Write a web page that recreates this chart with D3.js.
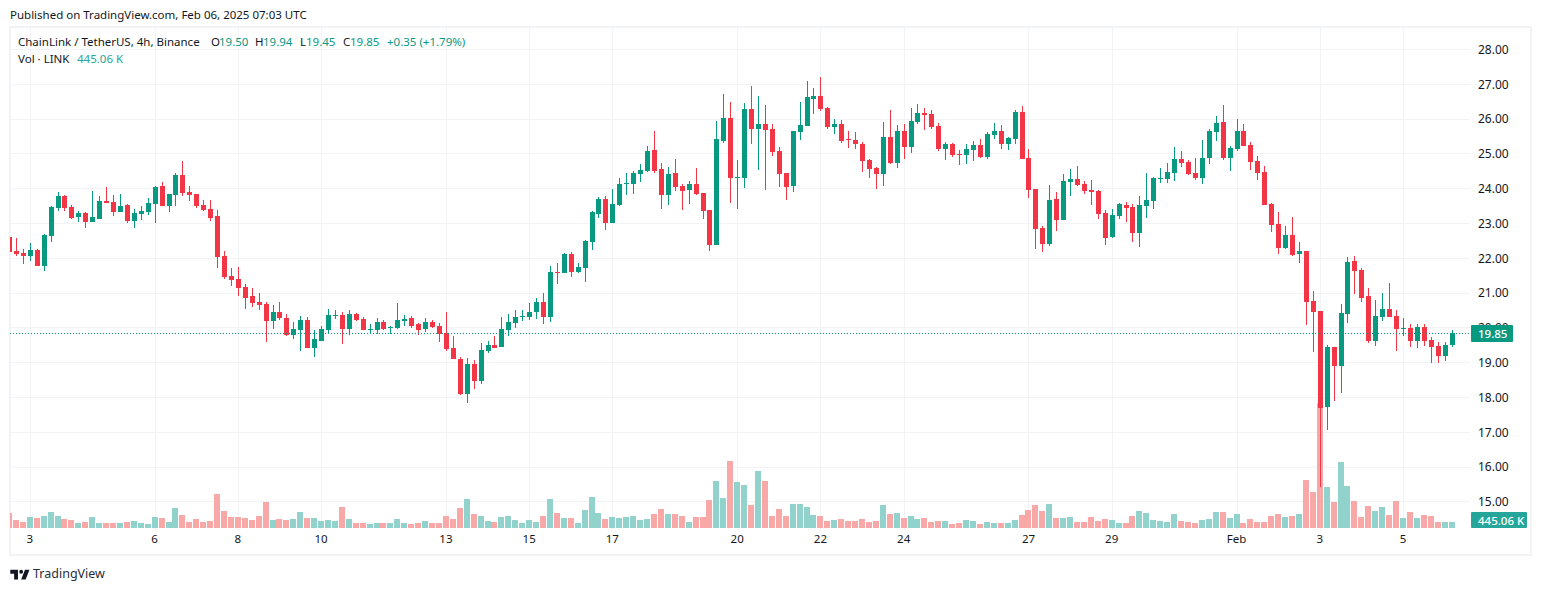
<!DOCTYPE html>
<html>
<head>
<meta charset="utf-8">
<script src="https://cdn.jsdelivr.net/npm/d3@7.9.0/dist/d3.min.js"></script>
<style>
  body { margin: 0; background: #fff; }
  svg { display: block; }
  text { font-family: "Noto Sans", "Open Sans", sans-serif; }
</style>
</head>
<body>
<svg id="chart" width="1542" height="591"></svg>
<script>
// LINK/USDT 4h candles
const opens = [
  22.61,22.21,22.15,22.07,22.24,21.78,22.64,23.45,23.79,23.48,
  23.19,23.30,23.04,23.13,23.65,23.62,23.33,23.53,23.07,23.27,
  23.33,23.56,24.08,23.50,23.82,24.39,23.91,23.85,23.53,23.42,
  23.22,22.07,21.49,21.41,21.18,20.92,20.75,20.69,20.20,20.46,
  20.29,19.80,19.94,20.23,19.42,19.62,19.94,20.34,20.37,19.97,
  20.40,20.26,19.94,19.94,20.17,19.99,20.00,20.20,20.29,20.11,
  19.97,20.17,20.06,19.85,19.42,19.11,18.10,18.96,18.47,19.34,
  19.51,19.45,19.94,20.14,20.31,20.31,20.46,20.75,20.31,21.61,
  21.58,22.12,21.61,21.72,22.47,23.27,23.70,23.02,23.53,24.14,
  24.14,24.42,24.51,25.11,24.57,23.82,24.45,24.08,23.96,24.14,
  23.88,23.39,22.38,25.37,26.03,24.31,24.31,26.29,25.72,25.86,
  25.72,25.08,24.45,24.08,25.63,25.80,26.58,26.66,26.32,25.77,
  25.86,25.43,25.40,25.29,24.83,24.60,24.42,25.49,24.74,25.66,
  25.20,25.92,26.18,26.15,25.80,25.14,25.29,25.00,24.97,25.11,
  25.26,24.91,25.54,25.66,25.29,25.43,26.20,24.88,23.99,22.87,
  22.41,23.70,23.10,24.19,24.28,24.14,23.96,23.93,23.30,22.61,
  23.22,23.53,23.48,22.73,23.50,23.65,24.28,24.28,24.45,24.85,
  24.77,24.45,24.31,24.88,25.63,25.92,24.88,25.14,25.66,25.26,
  24.80,24.48,23.56,22.99,22.30,22.67,22.12,22.21,20.77,20.49,
  17.73,19.45,18.91,20.40,21.92,21.66,20.92,19.62,20.31,20.54,
  20.34,19.97,20.00,19.62,20.03,19.65,19.48,19.19,19.50
];
const highs = [
  22.62,22.58,22.27,22.44,22.27,22.70,23.50,23.91,23.82,23.53,
  23.36,23.33,23.93,23.79,24.05,23.82,23.85,23.56,23.42,23.50,
  23.73,24.08,24.19,23.85,24.45,24.80,24.08,23.85,23.68,23.68,
  23.39,22.21,21.72,21.75,21.26,21.15,21.00,20.75,20.66,20.75,
  20.40,20.17,20.34,20.31,19.94,20.06,20.54,20.52,20.46,20.52,
  20.43,20.31,20.11,20.29,20.23,20.06,20.72,20.37,20.34,20.14,
  20.29,20.23,20.14,20.46,19.77,19.16,19.14,19.08,19.57,19.62,
  19.77,20.31,20.40,20.52,20.52,20.72,20.86,21.00,21.78,21.87,
  22.15,22.18,21.87,22.53,23.36,23.76,23.79,23.99,24.31,24.45,
  24.51,24.71,25.23,25.66,24.74,24.62,24.85,24.14,24.22,24.60,
  23.88,23.39,25.95,26.72,26.49,24.83,26.46,26.95,26.66,26.41,
  25.86,25.20,24.45,25.66,26.49,27.10,26.89,27.21,26.35,26.00,
  25.98,25.66,25.63,25.34,24.85,24.62,25.92,26.26,25.83,25.86,
  26.32,26.43,26.32,26.26,25.89,25.34,25.31,25.11,25.29,25.37,
  25.43,25.63,25.89,25.83,25.49,26.26,26.38,25.14,23.99,22.93,
  24.11,23.91,24.42,24.57,24.65,24.22,24.25,23.96,23.39,23.42,
  23.59,23.62,23.56,23.79,24.45,24.34,24.60,24.74,25.20,25.08,
  24.83,24.88,25.40,25.72,26.09,26.41,25.23,26.00,25.86,25.34,
  24.94,24.65,23.59,23.33,22.93,23.19,22.47,22.21,21.06,20.49,
  19.51,19.45,20.69,22.04,22.07,21.72,21.15,20.80,21.00,21.29,
  20.52,20.29,20.11,20.11,20.11,19.74,19.60,19.60,19.94
];
const lows = [
  22.17,22.07,21.84,21.92,21.78,21.64,22.47,23.36,23.36,23.13,
  23.04,22.87,23.04,23.13,23.59,23.22,23.33,23.02,22.87,23.10,
  23.25,23.02,23.50,23.33,23.50,23.79,23.65,23.45,23.36,23.07,
  21.72,21.41,21.20,20.92,20.54,20.60,20.52,19.60,19.97,20.23,
  19.77,19.68,19.34,19.42,19.16,19.62,19.83,20.26,19.54,19.80,
  20.20,19.94,19.83,19.83,19.94,19.83,19.97,20.06,20.00,19.80,
  19.88,20.00,19.60,19.34,19.11,18.07,17.84,18.25,18.39,19.28,
  19.42,19.45,19.77,20.00,20.20,20.23,20.26,20.11,20.17,21.26,
  21.58,21.46,21.58,21.32,22.24,23.16,22.81,23.02,23.50,23.82,
  23.85,24.19,24.48,24.45,23.42,23.53,23.93,23.39,23.56,23.82,
  23.13,22.21,22.38,25.31,23.59,23.42,24.02,25.29,24.54,23.96,
  24.94,24.05,23.68,23.91,25.40,25.80,26.15,26.23,25.72,25.57,
  25.31,25.17,25.14,24.48,24.31,23.99,24.08,24.71,24.60,24.85,
  25.03,25.86,25.69,25.72,25.08,24.83,24.91,24.68,24.71,24.80,
  24.88,24.85,25.43,25.14,25.11,25.29,24.85,23.73,22.27,22.18,
  22.35,22.79,23.10,23.79,24.08,23.85,23.53,23.13,22.38,22.58,
  23.13,23.04,22.47,22.33,23.16,23.42,24.16,24.16,24.22,24.62,
  24.39,24.25,24.14,24.71,25.37,24.83,24.51,25.08,25.23,24.54,
  24.25,23.53,22.76,22.12,22.27,22.07,21.87,20.08,19.31,15.43,
  17.07,17.90,18.13,20.14,20.98,20.75,19.57,19.48,20.20,20.31,
  19.34,19.77,19.45,19.42,19.48,18.99,18.99,19.05,19.45
];
const closes = [
  22.18,22.12,22.07,22.24,21.78,22.67,23.48,23.79,23.45,23.16,
  23.30,23.04,23.19,23.65,23.59,23.33,23.50,23.07,23.30,23.36,
  23.59,24.05,23.50,23.85,24.39,23.88,23.82,23.50,23.39,23.16,
  22.04,21.46,21.38,21.15,20.86,20.72,20.66,20.20,20.46,20.29,
  19.80,19.97,20.23,19.42,19.68,19.97,20.37,20.37,19.97,20.40,
  20.23,19.94,19.97,20.17,19.97,20.03,20.23,20.26,20.06,19.94,
  20.17,20.03,19.83,19.39,19.11,18.10,18.96,18.47,19.37,19.51,
  19.42,19.97,20.17,20.31,20.34,20.46,20.75,20.31,21.61,21.58,
  22.12,21.61,21.75,22.50,23.33,23.70,23.02,23.56,24.14,24.17,
  24.45,24.54,25.08,24.51,23.82,24.42,24.05,23.93,24.14,23.85,
  23.36,22.38,25.43,26.03,24.31,24.34,26.29,25.72,25.86,25.69,
  25.06,24.42,24.05,25.66,25.83,26.64,26.66,26.29,25.77,25.86,
  25.37,25.40,25.29,24.80,24.57,24.42,25.49,24.74,25.66,25.20,
  25.95,26.18,26.12,25.77,25.14,25.29,24.97,24.97,25.14,25.26,
  24.91,25.57,25.66,25.29,25.46,26.20,24.85,23.96,22.84,22.41,
  23.68,23.10,24.22,24.28,24.11,23.93,23.91,23.27,22.58,23.25,
  23.56,23.45,22.73,23.53,23.68,24.31,24.31,24.48,24.85,24.74,
  24.42,24.31,24.88,25.66,25.89,24.88,25.17,25.66,25.23,24.77,
  24.45,23.53,22.96,22.30,22.67,22.10,22.21,20.75,20.46,17.70,
  19.45,18.91,20.43,21.89,21.64,20.86,19.62,20.34,20.54,20.31,
  19.97,20.00,19.62,20.03,19.62,19.45,19.19,19.51,19.85
];
// volume in thousands of LINK
const volumes = [
  1125,600,450,825,750,900,1200,900,675,600,
  375,450,825,375,375,375,375,450,525,375,
  300,825,750,450,1500,975,450,675,450,525,
  2550,1275,825,825,750,600,900,1950,600,675,
  600,675,1200,750,750,525,600,525,1575,675,
  375,375,300,375,375,375,675,375,300,375,
  525,375,375,900,675,1500,2175,1050,900,525,
  450,825,900,600,375,600,450,900,2175,1125,
  750,750,375,1350,2325,1125,675,825,750,825,
  900,600,675,1050,1425,1050,1050,900,450,825,
  825,2100,3525,2250,5025,3450,3225,1725,4275,3525,
  900,1425,900,1800,1800,1575,975,900,525,600,
  675,525,525,675,450,525,1725,1050,1125,750,
  900,675,750,450,525,525,300,375,600,525,
  300,450,375,375,375,600,975,1350,1725,1275,
  1800,750,750,825,450,450,825,525,675,600,
  375,375,900,1275,1125,600,525,450,1050,525,
  450,375,600,675,1200,1200,750,1050,375,675,
  450,450,900,1050,825,900,1050,3600,2700,9325,
  3050,1950,4950,3125,2025,825,1650,1275,1575,975,
  2025,750,1200,750,975,900,450,450,445.06
];
const tickLabels = ["3","6","8","10","13","15","17","20","22","24","27","29","Feb","3","5"];
const tickIndex = [3,21,33,45,63,75,87,105,117,129,147,159,177,189,201];
const priceTicks = [15,16,17,18,19,20,21,22,23,24,25,26,27,28];

const green = "#089981", red = "#F23645";
const volGreen = "#92d2cc", volRed = "#f8a9a7";
const gridColor = "#f2f3f6", textColor = "#131722";

const left = 10, right = 1470, paneTop = 27, paneBottom = 530;

const svg = d3.select("#chart");

// ---------- SCALES ----------

const x = d3.scaleLinear().domain([0, 208]).range([9.5, 1452]);
const y = d3.scaleLinear().domain([15, 28]).range([501.9, 49.5]);
const yVol = d3.scaleLinear().domain([0, 9325]).range([528, 403]);

const snap = v => Math.floor(v) + 0.5;

svg.append("clipPath").attr("id", "pane")
  .append("rect")
  .attr("x", left).attr("y", paneTop)
  .attr("width", right - left).attr("height", paneBottom - paneTop);

// ---------- FRAME & GRID ----------

svg.append("rect")
  .attr("x", 10).attr("y", 27).attr("width", 1521).attr("height", 528)
  .attr("fill", "none").attr("stroke", gridColor).attr("stroke-width", 2);

const grid = svg.append("g").attr("shape-rendering", "crispEdges").attr("stroke", gridColor);

grid.selectAll(".h").data(priceTicks).join("line")
  .attr("x1", left).attr("x2", right)
  .attr("y1", d => snap(y(d))).attr("y2", d => snap(y(d)));

grid.selectAll(".v").data(tickIndex).join("line")
  .attr("x1", d => snap(x(d))).attr("x2", d => snap(x(d)))
  .attr("y1", paneTop).attr("y2", paneBottom);

// ---------- VOLUME & CANDLES ----------

const idx = d3.range(closes.length);
const plot = svg.append("g").attr("clip-path", "url(#pane)").attr("shape-rendering", "crispEdges");

plot.append("g").selectAll("rect").data(idx).join("rect")
  .attr("x", i => Math.floor(x(i)) - 3)
  .attr("width", 6)
  .attr("y", i => Math.round(yVol(volumes[i])))
  .attr("height", i => 528 - Math.round(yVol(volumes[i])))
  .attr("fill", i => closes[i] >= opens[i] ? volGreen : volRed);

plot.append("g").selectAll("rect").data(idx).join("rect")
  .attr("x", i => Math.floor(x(i)))
  .attr("width", 1)
  .attr("y", i => y(highs[i]))
  .attr("height", i => y(lows[i]) - y(highs[i]))
  .attr("fill", i => closes[i] >= opens[i] ? green : red);

plot.append("g").selectAll("rect").data(idx).join("rect")
  .attr("x", i => Math.floor(x(i)) - 2)
  .attr("width", 5)
  .attr("y", i => Math.round(y(Math.max(opens[i], closes[i]))))
  .attr("height", i => Math.max(1, Math.abs(y(opens[i]) - y(closes[i]))))
  .attr("fill", i => closes[i] >= opens[i] ? green : red);

// ---------- AXES ----------

const lastClose = closes[closes.length - 1];

const priceAxis = d3.axisRight(y).tickValues(priceTicks).tickSize(0).tickPadding(0)
  .tickFormat(d3.format(".2f"));
const gPrice = svg.append("g").attr("transform", "translate(1478,0)").call(priceAxis);
gPrice.select(".domain").remove();
gPrice.selectAll("text").attr("font-size", 12).attr("fill", textColor)
  .style("font-family", '"Noto Sans", sans-serif');

const timeAxis = d3.axisBottom(x).tickValues(tickIndex).tickSize(0).tickPadding(0)
  .tickFormat((d, i) => tickLabels[i]);
const gTime = svg.append("g").attr("transform", "translate(-1,535)").call(timeAxis);
gTime.select(".domain").remove();
gTime.selectAll("text").attr("font-size", 11.5).attr("fill", textColor)
  .style("font-family", '"Noto Sans", sans-serif');

// ---------- LAST PRICE ----------

svg.append("line")
  .attr("x1", left).attr("x2", right)
  .attr("y1", snap(y(lastClose))).attr("y2", snap(y(lastClose)))
  .attr("stroke", green).attr("stroke-dasharray", "1 2")
  .attr("shape-rendering", "crispEdges");

function badge(text, bx, by, w, h, fill) {
  svg.append("rect").attr("x", bx).attr("y", by).attr("width", w).attr("height", h)
    .attr("rx", 1).attr("fill", fill);
  svg.append("text").attr("x", bx + 7).attr("y", by + h / 2 + 4.5)
    .attr("font-size", 11.5).attr("fill", "#fff").attr("font-weight", 500).text(text);
}
badge(lastClose.toFixed(2), 1471, 325, 42, 17, green);
badge("445.06 K", 1471, 512, 56, 16, "#26a69a");

// ---------- TEXT ----------

function label(tx, ty, text, fill) {
  svg.append("text").attr("x", tx).attr("y", ty)
    .attr("font-size", 11.5).attr("fill", fill || textColor).text(text);
}
const n = closes.length - 1;
const change = closes[n] - opens[n];

label(10, 19, "Published on TradingView.com, Feb 06, 2025 07:03 UTC");
label(18, 46, "ChainLink / TetherUS, 4h, Binance");
label(211, 46, "O"); label(219, 46, opens[n].toFixed(2), green);
label(255, 46, "H"); label(263, 46, highs[n].toFixed(2), green);
label(300, 46, "L"); label(306, 46, lows[n].toFixed(2), green);
label(343, 46, "C"); label(350, 46, closes[n].toFixed(2), green);
label(387, 46, `+${change.toFixed(2)} (+1.79%)`, green);
label(18, 63, "Vol · LINK");
label(77, 63, "445.06 K", "#26a69a");

// TradingView mark and name
svg.append("path")
  .attr("transform", "translate(9,566) scale(0.64)")
  .attr("d", "M14 6H2v6h6v9h6V6Zm12 15h-7l6-15h7l-6 15Zm-7-9a3 3 0 1 0 0-6 3 3 0 0 0 0 6Z")
  .attr("fill", textColor);
svg.append("text").attr("x", 33).attr("y", 578)
  .attr("font-size", 12.5).attr("fill", "#2a2e39").text("TradingView");
</script>
</body>
</html>
